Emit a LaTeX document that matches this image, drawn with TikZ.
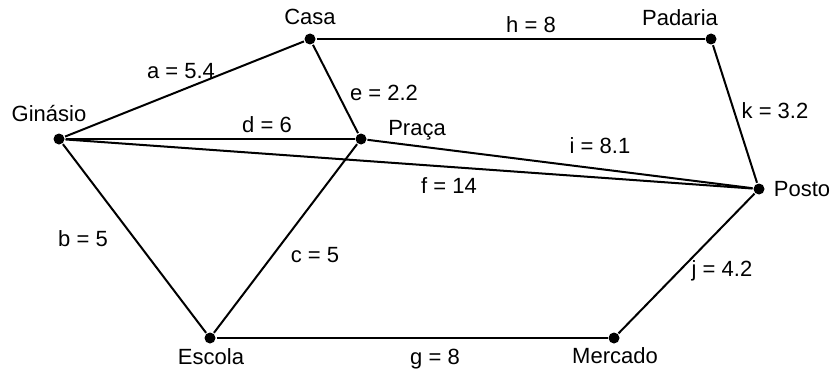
\documentclass[tikz,border=0pt]{standalone}
\usepackage{fontspec}
\setmainfont{Liberation Sans}
\begin{document}
\begin{tikzpicture}[x=1pt, y=-1pt, line width=2pt,
		vertex/.style={circle, fill, inner sep=0pt, minimum size=11pt},
		txt/.style={anchor=base, inner sep=0pt, font=\fontsize{22}{26}\selectfont}]
			\useasboundingbox (0,0) rectangle (832,369);
			% vertices
			\node[vertex] (gin) at (59,139) {};
			\node[vertex] (casa) at (310,39) {};
			\node[vertex] (pad) at (711,39) {};
			\node[vertex] (praca) at (361,139) {};
			\node[vertex] (posto) at (759,189) {};
			\node[vertex] (escola) at (210,338) {};
			\node[vertex] (merc) at (614,338) {};
			% edges
			\foreach \u/\v in {gin/casa, casa/pad, casa/praca, pad/posto, gin/praca,
					praca/posto, gin/posto, gin/escola, praca/escola, posto/merc, escola/merc} {
					\draw (\u) -- (\v);
				}
			% vertex names
			\node[txt] (tgin) at (49,121) {Ginásio};
			\node[txt] (tcasa) at (310,25) {Casa};
			\node[txt] (tpad) at (680,26) {Padaria};
			\node[txt] (tpraca) at (417,135) {Praça};
			\node[txt] (tposto) at (802,196) {Posto};
			\node[txt] (tescola) at (211,364) {Escola};
			\node[txt] (tmerc) at (615,363) {Mercado};
			% weights
			\node[txt] (wa) at (181,78) {a = 5.4};
			\node[txt] (wh) at (531,33) {h = 8};
			\node[txt] (we) at (384,100) {e = 2.2};
			\node[txt] (wk) at (775,118) {k = 3.2};
			\node[txt] (wd) at (267,132) {d = 6};
			\node[txt] (wi) at (600,153) {i = 8.1};
			\node[txt] (wf) at (449,193) {f = 14};
			\node[txt] (wb) at (83,246) {b = 5};
			\node[txt] (wc) at (315,262) {c = 5};
			\node[txt] (wj) at (722,276) {j = 4.2};
			\node[txt] (wg) at (435,364) {g = 8};
		\end{tikzpicture}
\end{document}
